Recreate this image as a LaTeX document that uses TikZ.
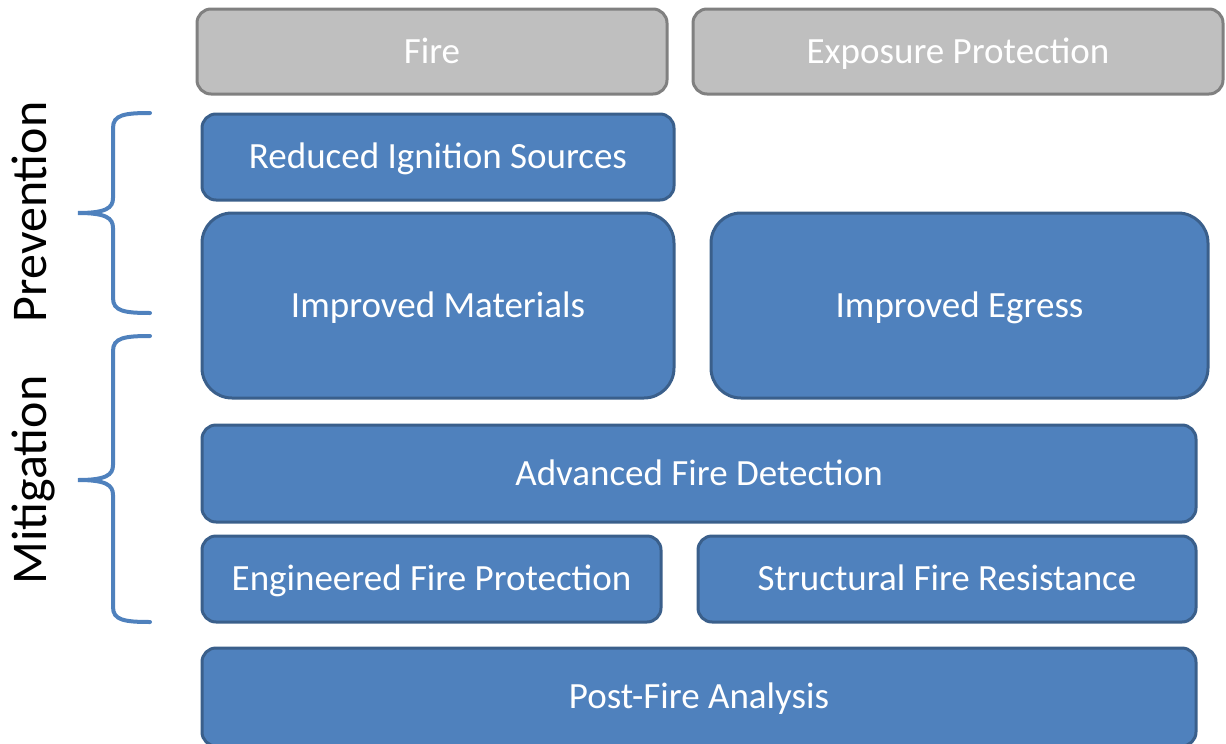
\documentclass[tikz,border=0pt]{standalone}
\usepackage{fontspec}
\setmainfont{Carlito}
\definecolor{boxblue}{HTML}{4F81BD}
\definecolor{boxedge}{HTML}{3A5F8B}
\definecolor{greyfill}{HTML}{BFBFBF}
\definecolor{greyedge}{HTML}{808080}
\begin{document}
\begin{tikzpicture}[x=1pt,y=-1pt,
  box/.style={draw=boxedge, fill=boxblue, line width=3pt, rounded corners=14pt, text=white,
    font=\fontsize{37}{42}\selectfont, inner sep=0pt, text height=23.3pt, text depth=0pt},
  bigbox/.style={box, rounded corners=30pt},
  greybox/.style={box, draw=greyedge, fill=greyfill},
  brace/.style={draw=boxblue, line width=4pt, line cap=round},
  side/.style={font=\fontsize{50}{58}\selectfont, rotate=90, text=black, inner sep=0pt, text height=32pt, text depth=0pt}]
\useasboundingbox (0,0) rectangle (1226,744);
\clip (0,0) rectangle (1226,744);
\node[greybox, minimum width=470pt, minimum height=85pt] (fire) at (432,51.5) {Fire};
\node[greybox, minimum width=530pt, minimum height=85pt] (exp) at (958,51.5) {Exposure Protection};
\node[box, minimum width=472pt, minimum height=86pt] (ris) at (438,157) {Reduced Ignition Sources};
\node[bigbox, minimum width=472pt, minimum height=185pt] (im) at (438,305.5) {Improved Materials};
\node[bigbox, minimum width=497pt, minimum height=185pt] (ie) at (959.5,305.5) {Improved Egress};
\node[box, minimum width=994pt, minimum height=97pt] (afd) at (699,473.5) {Advanced Fire Detection};
\node[box, minimum width=459pt, minimum height=86pt] (efp) at (431.5,579) {Engineered Fire Protection};
\node[box, minimum width=498pt, minimum height=86pt] (sfr) at (947,579) {Structural Fire Resistance};
\node[box, minimum width=994pt, minimum height=98pt] (pfa) at (699,697) {Post-Fire Analysis};
% braces
\draw[brace] (150,113) .. controls (124,113) and (113,115) .. (113,128) -- (113,198)
  .. controls (113,208) and (106,213) .. (78,213)
  .. controls (106,213) and (113,218) .. (113,228) -- (113,298)
  .. controls (113,311) and (124,313) .. (150,313);
\draw[brace] (150,336) .. controls (124,336) and (113,338) .. (113,351) -- (113,465)
  .. controls (113,475) and (106,480) .. (78,480)
  .. controls (106,480) and (113,485) .. (113,495) -- (113,607)
  .. controls (113,620) and (124,622) .. (150,622);
\node[side] (prev) at (30,212) {Prevention};
\node[side] (mit) at (30,480) {Mitigation};
\end{tikzpicture}
\end{document}
